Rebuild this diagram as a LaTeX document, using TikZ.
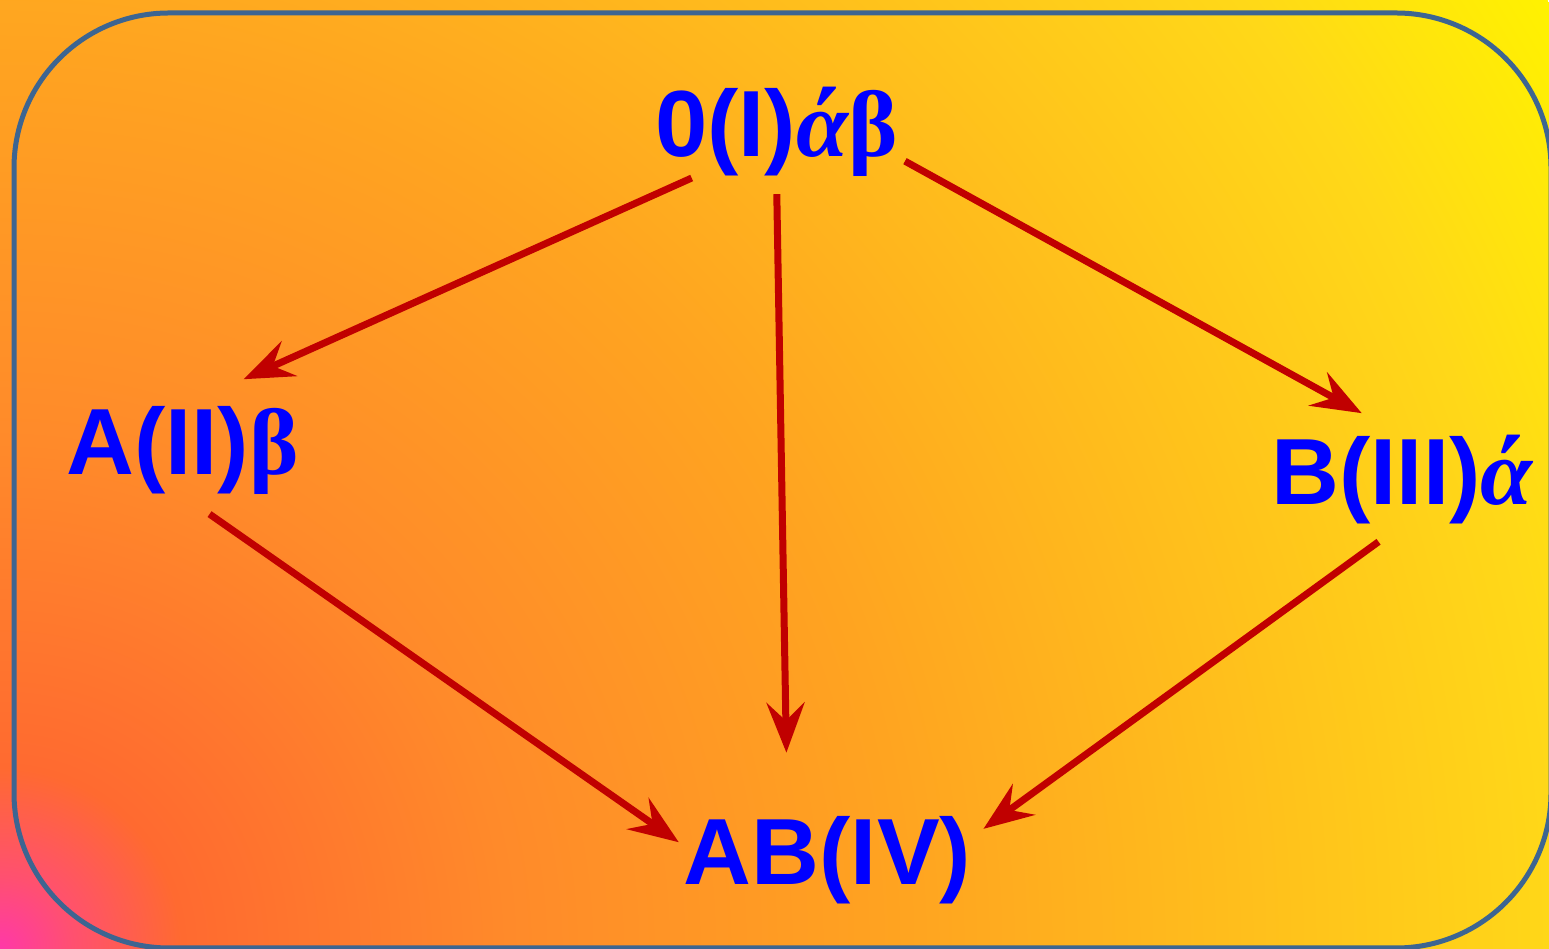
\documentclass[tikz,border=0pt]{standalone}
\usepackage{fontspec}
\setmainfont{Liberation Sans}
\newfontfamily\grkfont{Liberation Serif}
\usetikzlibrary{arrows.meta}
\usepackage{xcolor}

\definecolor{bgpink}{HTML}{FF38A8}
\definecolor{bgrose}{HTML}{FF5070}
\definecolor{bgred}{HTML}{FF6A30}
\definecolor{bgorange}{HTML}{FF8A2A}
\definecolor{bgamber}{HTML}{FFA420}
\definecolor{bggold}{HTML}{FFD818}
\definecolor{bgyellow}{HTML}{FFF200}
\definecolor{framecol}{HTML}{3D6591}
\definecolor{arrowred}{HTML}{C00000}

\pgfdeclareradialshading{bgshade}{\pgfpoint{0bp}{0bp}}{%
  color(0bp)=(bgpink); color(1bp)=(bgrose); color(2.5bp)=(bgred);
  color(7bp)=(bgorange); color(12.5bp)=(bgamber); color(21.5bp)=(bggold);
  color(25bp)=(bgyellow); color(72bp)=(bgyellow)}

\begin{document}
\begin{tikzpicture}[
    x=1pt, y=1pt,
    every node/.style={text=blue, inner sep=0pt, anchor=base,
      font=\fontsize{94}{110}\selectfont\bfseries},
    arr/.style={->, draw=arrowred, line width=7pt},
    >={Stealth[length=50pt, width=38pt, inset=18pt]}
  ]
  % Background
  \useasboundingbox (0,0) rectangle (1549,949);
  \begin{scope}
    \clip (0,0) rectangle (1549,949);
    \shade[shading=bgshade] (0,0) circle (1815);
  \end{scope}
  \draw[framecol, line width=5pt, rounded corners=155pt] (14,936) rectangle (1551,1);

  % Nodes
  \node (O) at (776.5,792) {0(I){\grkfont\itshape ά}{\grkfont β}};
  \node (A) at (182.5,474) {A(II){\grkfont β}};
  \node (B) at (1402,444) {B(III){\grkfont\itshape ά}};
  \node (AB) at (827.5,64) {AB(IV)};

  % Arrows
  \draw[arr, shorten <=2pt, shorten >=67pt] ([xshift=-83pt]O.south) -- (A.north);
  \draw[arr, shorten <=17pt, shorten >=64pt] (O.south) -- ([xshift=-40pt]AB.north);
  \draw[arr, shorten <=8pt, shorten >=46pt] ([yshift=-25pt]O.east) -- (B.north);
  \draw[arr, shorten <=33pt, shorten >=6pt] (A.south) -- ([yshift=15pt]AB.west);
  \draw[arr, shorten <=29pt, shorten >=15pt] (B.south) -- ([yshift=23pt]AB.east);
\end{tikzpicture}
\end{document}
